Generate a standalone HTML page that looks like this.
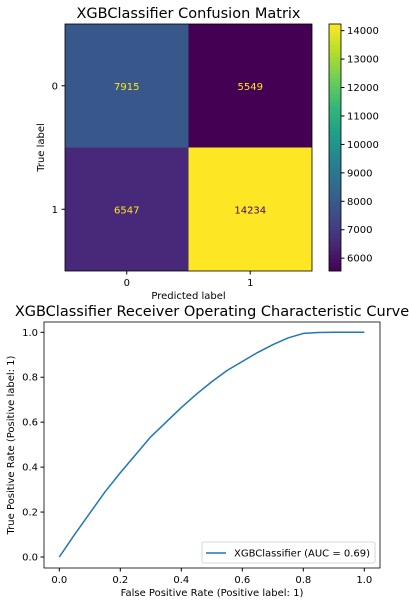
<!DOCTYPE html>
<html><head><meta charset="utf-8"><style>
body{margin:0;background:#fff;width:409px;height:606px;overflow:hidden}
svg{display:block;font-family:"DejaVu Sans","Liberation Sans",sans-serif}
</style></head><body>
<svg id="fig" width="409" height="606" xmlns="http://www.w3.org/2000/svg"></svg>
<script>
const cmRows = ["0","1"];
const cmCols = ["0","1"];
const cmValues = [[7915,5549],[6547,14234]];
const cbTicks = [6000,7000,8000,9000,10000,11000,12000,13000,14000];
const rocFpr = [0,0.05,0.1,0.15,0.2,0.25,0.3,0.35,0.4,0.45,0.5,0.55,0.6,0.65,0.7,0.75,0.8,0.85,0.9,1.0];
const rocTpr = [0,0.1,0.195,0.29,0.375,0.455,0.535,0.6,0.665,0.725,0.78,0.83,0.87,0.91,0.945,0.975,0.995,0.999,1.0,1.0];
const rocTicks = [0,0.2,0.4,0.6,0.8,1.0];

const NS="http://www.w3.org/2000/svg";
const svg=document.getElementById('fig');
function mk(tag,attrs,parent){const e=document.createElementNS(NS,tag);for(const k in attrs)e.setAttribute(k,attrs[k]);(parent||svg).appendChild(e);return e;}
function txt(s,attrs){const e=mk('text',attrs);e.textContent=s;return e;}
const vir=[[68,1,84],[72,40,120],[62,74,137],[49,104,142],[38,130,142],[31,158,137],[53,183,121],[110,206,88],[181,222,43],[253,231,37]];
function viridis(t){t=Math.max(0,Math.min(1,t));const p=t*9,i=Math.min(8,Math.floor(p)),f=p-i;const c=vir[i].map((v,k)=>Math.round(v+(vir[i+1][k]-v)*f));return `rgb(${c})`;}

// Confusion matrix
const cm={x0:65,x1:312,y0:24,y1:271};
const flat=cmValues.flat();const vmin=Math.min(...flat),vmax=Math.max(...flat);
const cw=(cm.x1-cm.x0)/cmCols.length,ch=(cm.y1-cm.y0)/cmRows.length;
let t=txt("XGBClassifier Confusion Matrix",{x:188.5,y:18,'text-anchor':'middle','font-size':14.5,fill:'#000'});

cmRows.forEach((r,i)=>cmCols.forEach((c,j)=>{
  const v=cmValues[i][j];const nv=(v-vmin)/(vmax-vmin);
  const rc=mk('rect',{x:cm.x0+j*cw,y:cm.y0+i*ch,width:cw,height:ch,fill:viridis(nv)});
  
  const tt=txt(String(v),{x:cm.x0+(j+0.5)*cw,y:cm.y0+(i+0.5)*ch+4,'text-anchor':'middle','font-size':10,fill:nv>0.5?'#440154':'#fde725'});
  
}));
let fr=mk('rect',{x:cm.x0,y:cm.y0,width:cm.x1-cm.x0,height:cm.y1-cm.y0,fill:'none',stroke:'#000','stroke-width':0.8});

cmCols.forEach((c,j)=>{const x=cm.x0+(j+0.5)*cw;mk('line',{x1:x,x2:x,y1:cm.y1,y2:cm.y1+3.5,stroke:'#000'});
  const e=txt(c,{x:x,y:cm.y1+15,'text-anchor':'middle','font-size':10});});
cmRows.forEach((r,i)=>{const y=cm.y0+(i+0.5)*ch;mk('line',{x1:cm.x0-3.5,x2:cm.x0,y1:y,y2:y,stroke:'#000'});
  const e=txt(r,{x:cm.x0-7,y:y+3.5,'text-anchor':'end','font-size':10});});
t=txt("Predicted label",{x:188.5,y:299,'text-anchor':'middle','font-size':10});
t=txt("True label",{x:0,y:0,'text-anchor':'middle','font-size':10,transform:'translate(44,147.5) rotate(-90)'});
// colorbar
const cb={x0:329,x1:341,y0:24,y1:271};
const N=60;
for(let k=0;k<N;k++){const h=(cb.y1-cb.y0)/N;const r=mk('rect',{x:cb.x0,y:cb.y1-(k+1)*h-0.3,width:cb.x1-cb.x0,height:h+0.6,fill:viridis((k+0.5)/N)});}
fr=mk('rect',{x:cb.x0,y:cb.y0,width:cb.x1-cb.x0,height:cb.y1-cb.y0,fill:'none',stroke:'#000','stroke-width':0.8});
cbTicks.forEach(v=>{const y=cb.y1-(v-vmin)/(vmax-vmin)*(cb.y1-cb.y0);mk('line',{x1:cb.x1,x2:cb.x1+3.5,y1:y,y2:y,stroke:'#000'});
  const e=txt(String(v),{x:cb.x1+6,y:y+3.5,'font-size':10});});

// ROC
const ra={x0:44,x1:380,y0:322,y1:568};
const xs=v=>59.3+v*305, ys=v=>557-v*224.7;
t=txt("XGBClassifier Receiver Operating Characteristic Curve",{x:212,y:316,'text-anchor':'middle','font-size':14.5});
fr=mk('rect',{x:ra.x0,y:ra.y0,width:ra.x1-ra.x0,height:ra.y1-ra.y0,fill:'none',stroke:'#000','stroke-width':0.8});
rocTicks.forEach(v=>{const x=xs(v);mk('line',{x1:x,x2:x,y1:ra.y1,y2:ra.y1+3.5,stroke:'#000'});
  let e=txt(v.toFixed(1),{x:x,y:ra.y1+15,'text-anchor':'middle','font-size':10});
  const y=ys(v);mk('line',{x1:ra.x0-3.5,x2:ra.x0,y1:y,y2:y,stroke:'#000'});
  e=txt(v.toFixed(1),{x:ra.x0-6,y:y+3.5,'text-anchor':'end','font-size':10});});
t=txt("False Positive Rate (Positive label: 1)",{x:212,y:596,'text-anchor':'middle','font-size':10});
t=txt("True Positive Rate (Positive label: 1)",{x:0,y:0,'text-anchor':'middle','font-size':10,transform:'translate(14,445) rotate(-90)'});
const pl=mk('polyline',{points:rocFpr.map((f,i)=>xs(f)+','+ys(rocTpr[i])).join(' '),fill:'none',stroke:'#1f77b4','stroke-width':1.5,'stroke-linejoin':'round'});

const lg=mk('rect',{x:202,y:542,width:173,height:21,rx:2,fill:'#fff',stroke:'#ccc','stroke-width':0.8});

mk('line',{x1:206,x2:226,y1:553,y2:553,stroke:'#1f77b4','stroke-width':1.5});
t=txt("XGBClassifier (AUC = 0.69)",{x:234,y:556.5,'font-size':10});
</script>
</body></html>
